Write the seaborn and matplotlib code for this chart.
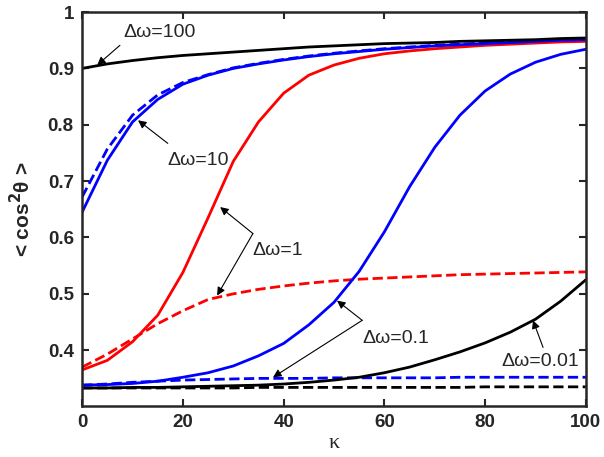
import numpy as np
import pandas as pd
import matplotlib
matplotlib.use("Agg")
import matplotlib.pyplot as plt
import seaborn as sns

kappa = [0, 5, 10, 15, 20, 25, 30, 35, 40, 45, 50, 55, 60, 65, 70, 75, 80, 85, 90, 95, 100]

dw100_solid = [0.900, 0.908, 0.914, 0.919, 0.923, 0.926, 0.929, 0.932, 0.935, 0.938, 0.940,
               0.942, 0.944, 0.945, 0.946, 0.948, 0.949, 0.950, 0.951, 0.953, 0.954]
dw10_solid = [0.645, 0.737, 0.805, 0.845, 0.872, 0.888, 0.900, 0.908, 0.915, 0.921, 0.926,
              0.930, 0.934, 0.937, 0.940, 0.942, 0.944, 0.946, 0.948, 0.950, 0.951]
dw10_dashed = [0.672, 0.757, 0.817, 0.853, 0.875, 0.889, 0.901, 0.909, 0.916, 0.922, 0.927,
               0.931, 0.935, 0.938, 0.941, 0.943, 0.945, 0.947, 0.949, 0.950, 0.951]
dw1_solid = [0.365, 0.382, 0.415, 0.462, 0.538, 0.635, 0.735, 0.805, 0.856, 0.888, 0.906,
             0.918, 0.926, 0.931, 0.935, 0.938, 0.941, 0.943, 0.945, 0.947, 0.948]
dw1_dashed = [0.370, 0.393, 0.420, 0.447, 0.470, 0.490, 0.500, 0.508, 0.514, 0.519, 0.523,
              0.526, 0.528, 0.530, 0.532, 0.534, 0.535, 0.536, 0.537, 0.538, 0.539]
dw01_solid = [0.338, 0.339, 0.341, 0.345, 0.352, 0.360, 0.372, 0.390, 0.412, 0.445, 0.485,
              0.540, 0.610, 0.690, 0.760, 0.817, 0.860, 0.890, 0.911, 0.925, 0.934]
dw01_dashed = [0.338, 0.340, 0.343, 0.345, 0.347, 0.348, 0.349, 0.350, 0.350, 0.350, 0.351,
               0.351, 0.351, 0.351, 0.351, 0.352, 0.352, 0.352, 0.352, 0.352, 0.352]
dw001_solid = [0.333, 0.333, 0.334, 0.334, 0.335, 0.336, 0.337, 0.338, 0.340, 0.343, 0.347,
               0.352, 0.360, 0.370, 0.383, 0.397, 0.413, 0.432, 0.455, 0.487, 0.525]
dw001_dashed = [0.333, 0.333, 0.333, 0.333, 0.333, 0.333, 0.333, 0.334, 0.334, 0.334, 0.334,
                0.334, 0.334, 0.334, 0.334, 0.334, 0.335, 0.335, 0.335, 0.335, 0.335]

x_ticks = [0, 20, 40, 60, 80, 100]
y_ticks = [0.4, 0.5, 0.6, 0.7, 0.8, 0.9, 1.0]
y_tick_labels = ["0.4", "0.5", "0.6", "0.7", "0.8", "0.9", "1"]

labels = ["Δω=100", "Δω=10", "Δω=1", "Δω=0.1", "Δω=0.01"]

sns.set_style("ticks")
plt.rcParams['font.family'] = ['Liberation Sans', 'DejaVu Sans']

fig = plt.figure(figsize=(6.04, 4.57), dpi=100)
ax = fig.add_axes([0.136, 0.1116, 0.834, 0.862])

series = [
    (dw001_dashed, 'black', '--'),
    (dw01_dashed, 'blue', '--'),
    (dw1_dashed, 'red', '--'),
    (dw10_dashed, 'blue', '--'),
    (dw001_solid, 'black', '-'),
    (dw01_solid, 'blue', '-'),
    (dw1_solid, 'red', '-'),
    (dw10_solid, 'blue', '-'),
    (dw100_solid, 'black', '-'),
]
for ys, c, ls in series:
    sns.lineplot(x=kappa, y=ys, ax=ax, color=c, linestyle=ls, linewidth=2.0)

ax.set_xlim(0, 100)
ax.set_ylim(0.301, 1.0)
ax.set_xticks(x_ticks)
ax.set_xticklabels([str(t) for t in x_ticks])
ax.set_yticks(y_ticks)
ax.set_yticklabels(y_tick_labels)
ax.tick_params(direction='in', top=True, right=True, length=5, width=1.5,
               labelsize=13.5, pad=6)
for lab in ax.get_xticklabels() + ax.get_yticklabels():
    lab.set_fontweight('bold')
for sp in ax.spines.values():
    sp.set_linewidth(1.8)
    sp.set_visible(True)

ax.set_xlabel('κ', fontsize=16, family=['Liberation Serif', 'DejaVu Serif'], labelpad=2)
ax.set_ylabel(r'< cos$^\mathbf{2}$θ >', fontsize=15, fontweight='bold', labelpad=10)

ap = dict(arrowstyle='-|>', color='black', lw=0.8, mutation_scale=12, shrinkA=0, shrinkB=0)
tfs = 14

def arrow(tip, tail):
    ax.annotate('', xy=tip, xytext=tail, arrowprops=ap)

# Δω=100
arrow((3.0, 0.906), (7.5, 0.941))
ax.text(8.1, 0.964, labels[0], fontsize=tfs, ha='left', va='center')
# Δω=10
arrow((11.1, 0.808), (17.0, 0.767))
ax.text(16.9, 0.737, labels[1], fontsize=tfs, ha='left', va='center')
# Δω=1
arrow((27.4, 0.654), (33.9, 0.607))
arrow((26.8, 0.497), (33.9, 0.607))
ax.text(33.7, 0.577, labels[2], fontsize=tfs, ha='left', va='center')
# Δω=0.1
arrow((50.6, 0.488), (55.6, 0.453))
arrow((37.9, 0.352), (55.6, 0.453))
ax.text(55.6, 0.421, labels[3], fontsize=tfs, ha='left', va='center')
# Δω=0.01
arrow((89.5, 0.453), (91.5, 0.405))
ax.text(83.3, 0.380, labels[4], fontsize=tfs, ha='left', va='center')

fig.savefig('out.png', dpi=100)
